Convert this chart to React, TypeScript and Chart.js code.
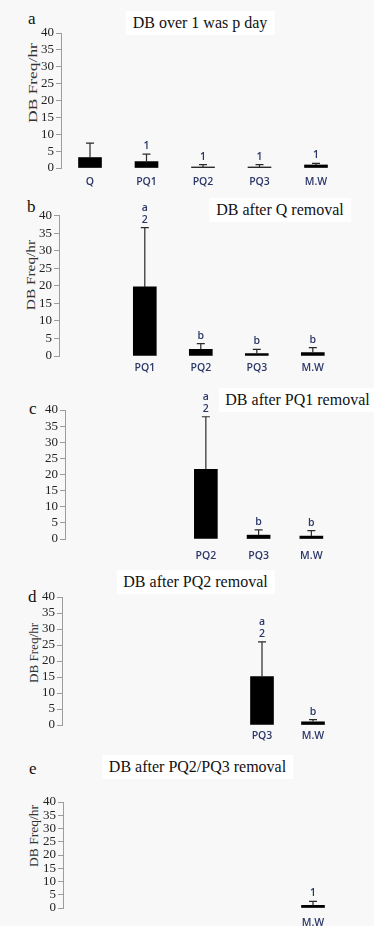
import React, { useEffect, useRef } from "react";
import { Chart, registerables } from "chart.js";

Chart.register(...registerables);

// ---------- DATA ----------
const GROUPS = ["Q", "PQ1", "PQ2", "PQ3", "M.W"];
const Y_MIN = 0;
const Y_MAX = 40;
const Y_STEP = 5;
const Y_LABEL = "DB Freq/hr";

const titleA = "DB over 1 was p day";
const catsA = ["Q", "PQ1", "PQ2", "PQ3", "M.W"];
const meansA = [3.1, 1.9, 0.3, 0.3, 0.9];
const errsA = [4.3, 2.2, 0.7, 0.7, 0.5];
const marksA = ["", "1", "1", "1", "1"];

const titleB = "DB after Q removal";
const catsB = ["PQ1", "PQ2", "PQ3", "M.W"];
const meansB = [19.7, 1.9, 0.7, 1.0];
const errsB = [16.9, 1.6, 1.2, 1.4];
const marksB = ["a\n2", "b", "b", "b"];

const titleC = "DB after PQ1 removal";
const catsC = ["PQ2", "PQ3", "M.W"];
const meansC = [21.6, 1.2, 0.9];
const errsC = [16.3, 1.6, 1.7];
const marksC = ["a\n2", "b", "b"];

const titleD = "DB after PQ2 removal";
const catsD = ["PQ3", "M.W"];
const meansD = [15.1, 1.0];
const errsD = [10.9, 0.7];
const marksD = ["a\n2", "b"];

const titleE = "DB after PQ2/PQ3 removal";
const catsE = ["M.W"];
const meansE = [1.0];
const errsE = [1.5];
const marksE = ["1"];

const PANEL_DATA = [
  { letter: "a", title: titleA, cats: catsA, means: meansA, errs: errsA, marks: marksA, yLabel: true },
  { letter: "b", title: titleB, cats: catsB, means: meansB, errs: errsB, marks: marksB, yLabel: true },
  { letter: "c", title: titleC, cats: catsC, means: meansC, errs: errsC, marks: marksC, yLabel: false },
  { letter: "d", title: titleD, cats: catsD, means: meansD, errs: errsD, marks: marksD, yLabel: true },
  { letter: "e", title: titleE, cats: catsE, means: meansE, errs: errsE, marks: marksE, yLabel: true },
];

// ---------- LAYOUT / STYLE ----------
const W = 374;
const RIGHT = 344;
const LAYOUT = [
  { top: 0, h: 190, axisX: 61, y40: 33, y0: 168, slot0: 90, step: 56.5, tickPad: 8,
    title: { cx: 200, cy: 23 }, letter: { x: 28, top: 9.6 }, ylab: { cx: 32, cy: 83, k: 1.34 } },
  { top: 190, h: 185, axisX: 59, y40: 215.7, y0: 356, slot0: 88.8, step: 56, tickPad: 5.5,
    title: { cx: 280, cy: 210 }, letter: { x: 27, top: 197.8 }, ylab: { cx: 30, cy: 275, k: 1.18 } },
  { top: 375, h: 185, axisX: 65, y40: 410, y0: 539, slot0: 100.35, step: 52.75, tickPad: 11,
    title: { cx: 297.5, cy: 400 }, letter: { x: 29, top: 400 }, ylab: { cx: 32, cy: 470, k: 1 } },
  { top: 560, h: 185, axisX: 62, y40: 597, y0: 725, slot0: 109, step: 51, tickPad: 5,
    title: { cx: 195.5, cy: 582 }, letter: { x: 28, top: 588 }, ylab: { cx: 33, cy: 653, k: 1.01 } },
  { top: 745, h: 181, axisX: 63, y40: 802, y0: 908, slot0: 105, step: 52, tickPad: 9,
    title: { cx: 197.5, cy: 767 }, letter: { x: 29, top: 760 }, ylab: { cx: 33, cy: 836, k: 1.04 } },
];

const SERIF = '"Liberation Serif", "Times New Roman", serif';
const SANS = '"Open Sans", "Liberation Sans", sans-serif';
const LABEL_COLOR = "#2c3768";
const AXIS_COLOR = "#9c9c9c";

const errAnno = {
  id: "errAnno",
  afterDatasetsDraw(chart: any, _args: any, opts: any) {
    const { ctx } = chart;
    const xs = chart.scales.x;
    const ys = chart.scales.y;
    const pts = chart.data.datasets[0].data as any[];
    ctx.save();
    pts.forEach((p: any, i: number) => {
      const px = xs.getPixelForValue(p.x);
      const yBar = ys.getPixelForValue(p.y);
      const yTop = ys.getPixelForValue(p.y + opts.errors[i]);
      ctx.strokeStyle = "#2a2a2a";
      ctx.lineWidth = 1.2;
      ctx.beginPath();
      ctx.moveTo(px, yBar);
      ctx.lineTo(px, yTop);
      ctx.moveTo(px - 4, yTop);
      ctx.lineTo(px + 4, yTop);
      ctx.stroke();
      const lines = String(opts.marks[i] || "").split("\n").filter(Boolean).reverse();
      ctx.fillStyle = LABEL_COLOR;
      ctx.font = "600 10.5px " + SANS;
      ctx.textAlign = "center";
      ctx.textBaseline = "alphabetic";
      lines.forEach((t: string, j: number) => {
        ctx.fillText(t, px, yTop - 5 - j * 12);
      });
    });
    ctx.restore();
  },
};

function Panel({ idx }: { idx: number }) {
  const ref = useRef<HTMLCanvasElement>(null);
  const L = LAYOUT[idx];
  const D = PANEL_DATA[idx];
  useEffect(() => {
    const canvas = ref.current!;
    const xMin = -(L.slot0 - L.axisX) / L.step;
    const xMax = (RIGHT - L.slot0) / L.step;
    const chart = new Chart(canvas, {
      type: "bar",
      data: {
        datasets: [
          {
            data: D.cats.map((c, i) => ({ x: GROUPS.indexOf(c), y: D.means[i] })),
            backgroundColor: "#000000",
            borderWidth: 0,
            barThickness: 23,
          } as any,
        ],
      },
      options: {
        animation: false,
        responsive: false,
        events: [],
        layout: { padding: { top: L.y40 - L.top, right: W - RIGHT, bottom: 0, left: 0 } },
        plugins: {
          legend: { display: false },
          tooltip: { enabled: false },
          title: { display: false },
          errAnno: { errors: D.errs, marks: D.marks },
        } as any,
        scales: {
          x: {
            type: "linear",
            offset: false,
            min: xMin,
            max: xMax,
            grid: { display: false, drawTicks: false, offset: false },
            border: { display: false },
            afterBuildTicks: (s: any) => {
              s.ticks = D.cats.map((c) => ({ value: GROUPS.indexOf(c) }));
            },
            afterFit: (s: any) => {
              s.height = L.top + L.h - L.y0;
            },
            ticks: {
              autoSkip: false,
              maxRotation: 0,
              padding: L.tickPad,
              color: LABEL_COLOR,
              font: { family: SANS, size: 10.5, weight: "600" },
              callback: (v: any) => GROUPS[v] ?? "",
            },
          },
          y: {
            type: "linear",
            min: Y_MIN,
            max: Y_MAX,
            afterFit: (s: any) => {
              s.width = L.axisX;
            },
            ticks: {
              stepSize: Y_STEP,
              autoSkip: false,
              padding: 2,
              color: "#222222",
              font: { family: SERIF, size: 13 },
            },
            grid: { display: true, drawOnChartArea: false, drawTicks: true, tickLength: 5, color: AXIS_COLOR },
            border: { display: true, color: AXIS_COLOR, width: 1 },
          },
        } as any,
      },
      plugins: [errAnno as any],
    });
    return () => chart.destroy();
  }, []);
  return (
    <canvas
      ref={ref}
      width={W}
      height={L.h}
      style={{ position: "absolute", left: 0, top: L.top, width: W, height: L.h }}
    />
  );
}

export default function App() {
  return (
    <div
      style={{
        position: "absolute",
        left: 0,
        top: 0,
        width: W,
        height: 926,
        overflow: "hidden",
        background: "#f8f8f8",
      }}
    >
      {PANEL_DATA.map((d, i) => {
        const L = LAYOUT[i];
        return (
          <React.Fragment key={d.letter}>
            <div
              style={{
                position: "absolute",
                left: L.title.cx,
                top: L.title.cy - 12,
                transform: "translateX(-50%)",
                background: "#ffffff",
                padding: "4px 7px",
                font: `16px ${SERIF}`,
                lineHeight: "16px",
                whiteSpace: "nowrap",
                color: "#111",
              }}
            >
              {d.title}
            </div>
            <div
              style={{
                position: "absolute",
                left: L.letter.x,
                top: L.letter.top,
                font: `17px ${SERIF}`,
                lineHeight: "17px",
                color: "#111",
              }}
            >
              {d.letter}
            </div>
            {d.yLabel && (
              <div
                style={{
                  position: "absolute",
                  left: L.ylab.cx,
                  top: L.ylab.cy,
                  transform: `translate(-50%, -50%) rotate(-90deg) scaleX(${L.ylab.k})`,
                  font: `13px ${SERIF}`,
                  lineHeight: "13px",
                  whiteSpace: "nowrap",
                  color: "#333",
                }}
              >
                {Y_LABEL}
              </div>
            )}
            <Panel idx={i} />
          </React.Fragment>
        );
      })}
    </div>
  );
}
